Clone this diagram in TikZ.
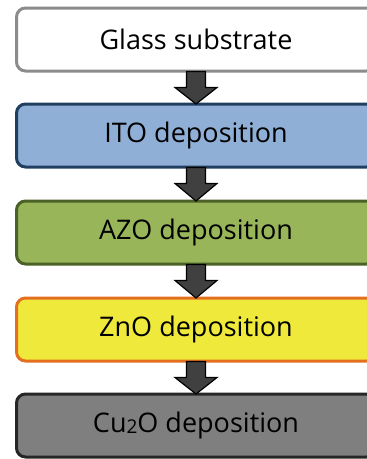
\documentclass[tikz,border=0pt]{standalone}
\usepackage{fontspec}
\setmainfont{Open Sans}
\usetikzlibrary{calc}
\definecolor{bluefill}{HTML}{8FAFD6}
\definecolor{blueline}{HTML}{1F3E60}
\definecolor{greenfill}{HTML}{98B55A}
\definecolor{greenline}{HTML}{4C6127}
\definecolor{yellowfill}{HTML}{EFE93B}
\definecolor{orangeline}{HTML}{E4701F}
\definecolor{grayfill}{HTML}{7F7F7F}
\definecolor{grayline}{HTML}{262626}
\definecolor{whiteline}{HTML}{8C8C8C}
\definecolor{arrowfill}{HTML}{404040}
\tikzset{
  stepbox/.style={rectangle, rounded corners=9pt, line width=3pt,
    minimum width=359pt, minimum height=63pt, inner sep=0pt,
    font=\fontsize{27}{30}\selectfont, text=black},
  barrow/.style={draw=black, fill=arrowfill, line width=1.2pt, line join=miter}
}
\newcommand{\blockarrow}[2]{%
  \draw[barrow] ($(#1.south)+(-9.5,-1)$) -- ($(#1.south)+(-9.5,15)$)
    -- ($(#1.south)+(-21,15)$) -- ($(#2.north)+(0,1.5)$)
    -- ($(#1.south)+(21,15)$) -- ($(#1.south)+(9.5,15)$)
    -- ($(#1.south)+(9.5,-1)$) -- cycle;}
\begin{document}
\begin{tikzpicture}[x=1pt,y=-1pt]
\useasboundingbox (0,0) rectangle (367,459);
\node[stepbox, draw=whiteline, fill=white] (b1) at (196,39.5) {Glass substrate};
\node[stepbox, draw=blueline, fill=bluefill] (b2) at (196,135.5) {ITO deposition};
\node[stepbox, draw=greenline, fill=greenfill] (b3) at (196,232.5) {AZO deposition};
\node[stepbox, draw=orangeline, fill=yellowfill] (b4) at (196,329.5) {ZnO deposition};
\node[stepbox, draw=grayline, fill=grayfill] (b5) at (196,425.5) {Cu{\fontsize{19}{22}\selectfont\raisebox{-1pt}{2}}O deposition};
\blockarrow{b1}{b2}
\blockarrow{b2}{b3}
\blockarrow{b3}{b4}
\blockarrow{b4}{b5}
\end{tikzpicture}
\end{document}
